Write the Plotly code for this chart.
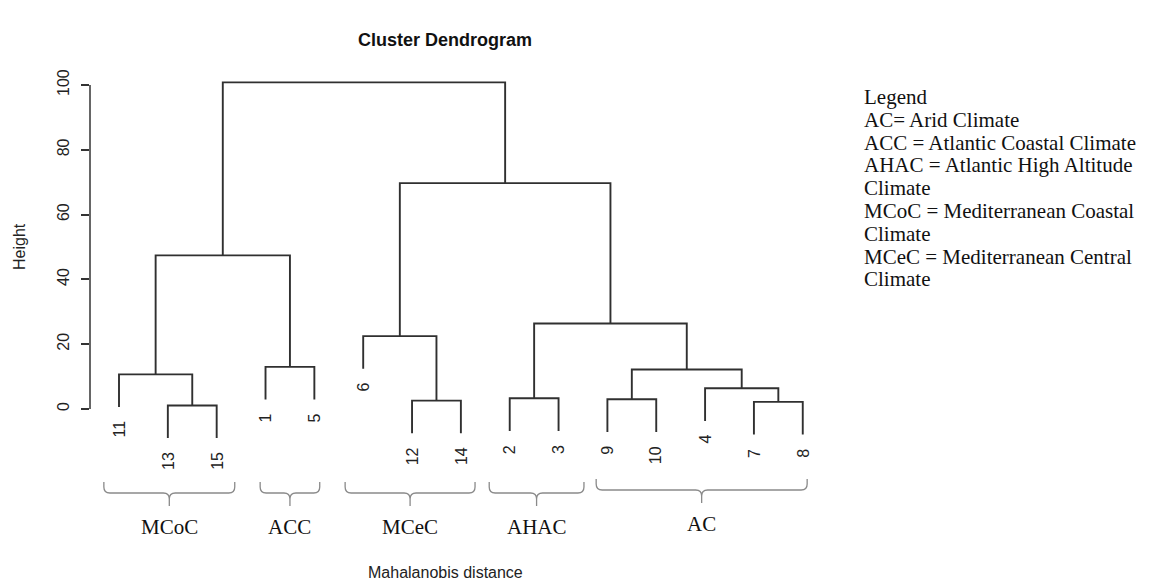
import plotly.graph_objects as go

# ---- data -------------------------------------------------------------
# leaf order along the x axis
leaf_order = [11, 13, 15, 1, 5, 6, 12, 14, 2, 3, 9, 10, 4, 7, 8]

# agglomeration steps (R hclust convention: negative = leaf, positive = earlier step)
merge_left = [-13, -7, -12, -9, -2, -4, -11, 4, -1, -6, 5, 7, 10, 12]
merge_right = [-15, -8, -14, -10, -3, 2, 1, 6, -5, 3, 8, 9, 11, 13]
merge_height = [1.1, 2.2, 2.6, 3.0, 3.3, 6.4, 10.7, 12.2, 13.0, 22.5, 26.4, 47.4, 69.7, 100.8]

# y axis ticks
y_ticks = [0, 20, 40, 60, 80, 100]
y_tick_labels = ["0", "20", "40", "60", "80", "100"]

# climate groups (first and last leaf position in leaf_order, 1-based)
group_names = ["MCoC", "ACC", "MCeC", "AHAC", "AC"]
group_first = [1, 4, 6, 9, 11]
group_last = [3, 5, 8, 10, 15]

legend_lines = [
    "Legend",
    "AC= Arid Climate",
    "ACC = Atlantic Coastal Climate",
    "AHAC = Atlantic High Altitude",
    "Climate",
    "MCoC = Mediterranean Coastal",
    "Climate",
    "MCeC = Mediterranean Central",
    "Climate",
]

# ---- page geometry ------------------------------------------------------
W, H = 1149, 583
ML = 90                      # left margin (y axis sits here)
X0_PX, DX_PX = 119.0, 48.84  # pixel of leaf 1 and leaf spacing
Y0_PX, DY_PX = 409.0, 3.24   # pixel of height 0 and pixels per unit

x_range = [1 + (ML - X0_PX) / DX_PX, 1 + (W - X0_PX) / DX_PX]
y_range = [(Y0_PX - H) / DY_PX, Y0_PX / DY_PX]

# bracket extents around each group, in leaf units (left pad, right pad),
# plus a small vertical lift in pixels
bracket_pad = [(0.31, 0.37), (0.11, 0.11), (0.37, 0.29), (0.42, 0.52), (0.23, 0.09)]
bracket_lift = [0, 0, 0, 0, 3]


def px_x(p):
    return (p - ML) / (W - ML)


def px_y(p):
    return 1 - p / H


# ---- dendrogram geometry ------------------------------------------------
hang = 0.1 * max(merge_height)
pos = {lab: i + 1 for i, lab in enumerate(leaf_order)}
node_x = []
seg_x, seg_y = [], []
leaf_bottom = {}


def child_info(c, h):
    if c < 0:
        lab = -c
        leaf_bottom[lab] = h - hang
        return pos[lab], h - hang
    return node_x[c - 1], merge_height[c - 1]


for a, b, h in zip(merge_left, merge_right, merge_height):
    xa, ya = child_info(a, h)
    xb, yb = child_info(b, h)
    seg_x += [xa, xa, xb, xb, None]
    seg_y += [ya, h, h, yb, None]
    node_x.append((xa + xb) / 2)

fig = go.Figure()
fig.add_trace(go.Scatter(
    x=seg_x, y=seg_y, mode="lines",
    line=dict(color="#303030", width=1.9),
    hoverinfo="skip", showlegend=False,
))

annotations = []
sans = "Liberation Sans, Arial, sans-serif"
serif = "Liberation Serif, Times New Roman, serif"

# leaf labels hanging under each leaf
for lab in leaf_order:
    annotations.append(dict(
        x=pos[lab], y=leaf_bottom[lab], xref="x", yref="y",
        text=str(lab), textangle=-90, showarrow=False,
        xanchor="center", yanchor="top", yshift=-12,
        font=dict(family=sans, size=16, color="#222222"),
    ))

# curly brackets under the climate groups
shapes = []
rx = 6 / DX_PX
ry = 6 / DY_PX
for name, f, l, (pl, pr), lift in zip(group_names, group_first, group_last,
                                      bracket_pad, bracket_lift):
    y_arm = (Y0_PX - 482 + lift) / DY_PX
    y_bar = (Y0_PX - 493 + lift) / DY_PX
    y_stem = (Y0_PX - 506 + lift) / DY_PX
    xl, xr = f - pl, l + pr
    cx = (xl + xr) / 2
    path = (
        f"M {xl},{y_arm} L {xl},{y_bar + ry} Q {xl},{y_bar} {xl + rx},{y_bar} "
        f"L {cx - rx},{y_bar} Q {cx},{y_bar} {cx},{y_bar - ry} L {cx},{y_stem} "
        f"M {cx},{y_bar - ry} Q {cx},{y_bar} {cx + rx},{y_bar} "
        f"L {xr - rx},{y_bar} Q {xr},{y_bar} {xr},{y_bar + ry} L {xr},{y_arm}"
    )
    shapes.append(dict(type="path", path=path, xref="x", yref="y",
                       line=dict(color="#8a8a8a", width=1.3)))
    annotations.append(dict(
        x=cx, y=(Y0_PX - 527 + lift) / DY_PX, xref="x", yref="y",
        text=name, showarrow=False, xanchor="center", yanchor="middle",
        font=dict(family=serif, size=21, color="#111111"),
    ))

# y axis line spanning the tick range only
shapes.append(dict(type="line", xref="paper", yref="y", x0=0, x1=0,
                   y0=y_ticks[0], y1=y_ticks[-1],
                   line=dict(color="#333333", width=1.5)))

# titles
annotations.append(dict(
    x=px_x(445), y=px_y(40), xref="paper", yref="paper",
    text="<b>Cluster Dendrogram</b>", showarrow=False,
    xanchor="center", yanchor="middle",
    font=dict(family=sans, size=18, color="#111111"),
))
annotations.append(dict(
    x=px_x(445), y=px_y(572), xref="paper", yref="paper",
    text="Mahalanobis distance", showarrow=False,
    xanchor="center", yanchor="middle",
    font=dict(family=sans, size=16, color="#222222"),
))
annotations.append(dict(
    x=px_x(20), y=px_y(247), xref="paper", yref="paper",
    text="Height", textangle=-90, showarrow=False,
    xanchor="center", yanchor="middle",
    font=dict(family=sans, size=16, color="#222222"),
))

# legend text block
for i, line in enumerate(legend_lines):
    annotations.append(dict(
        x=px_x(862), y=px_y(97 + 22.8 * i), xref="paper", yref="paper",
        text=line, showarrow=False, xanchor="left", yanchor="middle",
        font=dict(family=serif, size=21, color="#111111"),
    ))

fig.update_layout(
    width=W, height=H,
    margin=dict(l=ML, r=0, t=0, b=0),
    paper_bgcolor="white", plot_bgcolor="white",
    xaxis=dict(range=x_range, visible=False, fixedrange=True),
    yaxis=dict(
        range=y_range, tickmode="array", tickvals=y_ticks, ticktext=y_tick_labels,
        tickangle=-90, ticks="outside", ticklen=8, tickwidth=1.5, tickcolor="#333333",
        showgrid=False, zeroline=False, showline=False,
        tickfont=dict(family=sans, size=16, color="#222222"),
        ticklabelstandoff=6, fixedrange=True,
    ),
    shapes=shapes,
    annotations=annotations,
    showlegend=False,
)

fig.write_html("out.html")
